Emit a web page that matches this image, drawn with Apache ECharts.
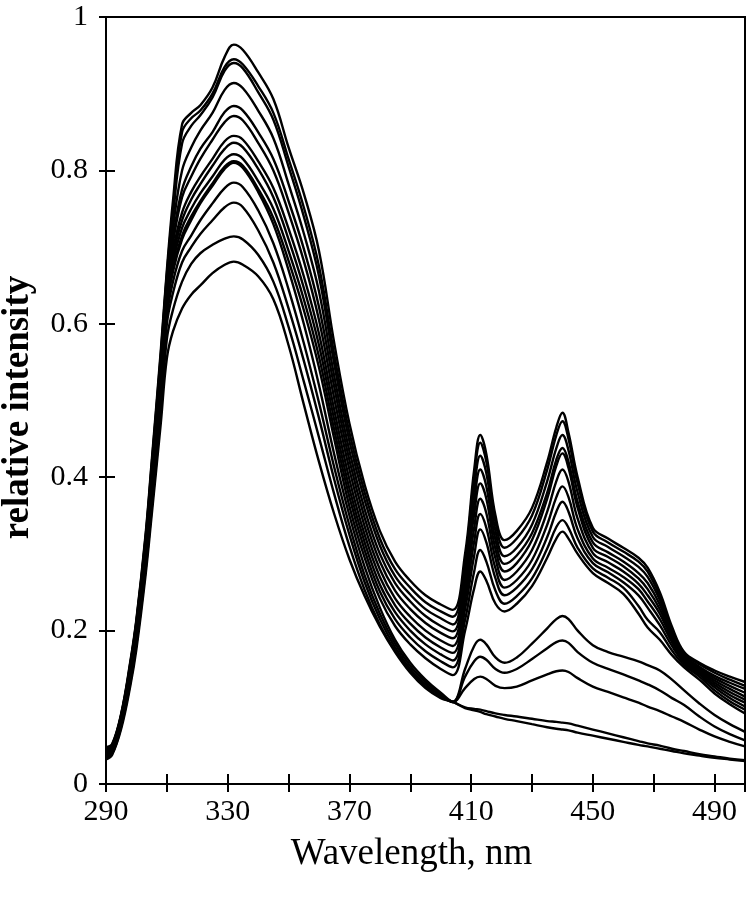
<!DOCTYPE html>
<html>
<head>
<meta charset="utf-8">
<script src="https://cdn.jsdelivr.net/npm/echarts@6/dist/echarts.min.js"></script>
<style>html,body{margin:0;padding:0;background:#fff}#chart{width:754px;height:900px}</style>
</head>
<body>
<div id="chart"></div>
<script>
const wavelength = [290,292,295,298,300,303,305,308,310,312,315,318,321,325,329,332,335,340,345,350,355,360,365,370,375,380,385,390,395,400,404,408,411,413,415,418,421,425,430,435,438,440,442,445,450,455,460,465,468,472,476,480,485,490,495,500];

const curve01 = [.048,.052,.092,.160,.215,.325,.420,.565,.670,.760,.860,.875,.885,.908,.948,.964,.957,.928,.893,.830,.770,.695,.575,.470,.390,.330,.290,.265,.246,.234,.227,.300,.410,.455,.430,.350,.318,.330,.360,.420,.465,.484,.458,.400,.334,.320,.308,.295,.282,.250,.205,.172,.158,.148,.140,.133];
const curve02 = [.047,.051,.091,.158,.213,.322,.416,.560,.665,.750,.850,.868,.878,.900,.935,.945,.938,.910,.875,.815,.752,.675,.560,.458,.380,.320,.280,.256,.237,.225,.218,.292,.400,.445,.420,.342,.308,.320,.350,.410,.455,.473,.450,.392,.329,.315,.303,.290,.277,.245,.202,.170,.156,.145,.136,.128];
const curve03 = [.046,.050,.090,.156,.211,.319,.412,.555,.660,.740,.835,.858,.872,.895,.930,.940,.933,.902,.866,.805,.740,.662,.548,.447,.370,.311,.271,.247,.228,.216,.208,.283,.385,.428,.405,.330,.297,.308,.338,.395,.438,.455,.435,.380,.322,.309,.297,.283,.270,.240,.199,.168,.153,.141,.132,.124];
const curve04 = [.045,.049,.089,.154,.209,.316,.408,.550,.655,.725,.800,.830,.852,.875,.905,.914,.907,.878,.842,.782,.718,.642,.532,.434,.358,.300,.262,.238,.219,.206,.199,.274,.368,.410,.388,.318,.287,.298,.327,.380,.423,.438,.420,.368,.315,.302,.290,.275,.262,.234,.196,.166,.151,.138,.128,.119];
const curve05 = [.044,.048,.088,.152,.206,.312,.403,.544,.650,.712,.775,.805,.828,.850,.876,.884,.878,.850,.815,.760,.698,.622,.518,.422,.347,.290,.252,.228,.210,.197,.190,.265,.352,.392,.372,.306,.277,.288,.318,.372,.415,.431,.412,.360,.308,.296,.284,.268,.254,.228,.193,.164,.149,.135,.124,.114];
const curve06 = [.043,.047,.087,.150,.204,.309,.399,.538,.645,.705,.765,.792,.815,.840,.863,.871,.865,.836,.800,.745,.682,.605,.503,.410,.336,.280,.242,.218,.200,.187,.180,.252,.334,.372,.353,.294,.266,.277,.305,.355,.395,.410,.394,.346,.301,.289,.277,.261,.246,.222,.189,.162,.147,.132,.120,.110];
const curve07 = [.042,.046,.086,.148,.202,.306,.395,.532,.640,.695,.745,.772,.792,.815,.838,.845,.840,.812,.777,.724,.662,.587,.488,.397,.325,.270,.233,.209,.191,.178,.171,.240,.316,.352,.334,.281,.256,.266,.292,.338,.374,.388,.374,.332,.294,.282,.270,.254,.238,.215,.185,.160,.145,.129,.116,.106];
const curve08 = [.041,.045,.085,.146,.199,.302,.390,.526,.635,.688,.735,.762,.782,.806,.828,.836,.830,.802,.765,.710,.647,.572,.475,.385,.315,.260,.224,.200,.182,.169,.161,.228,.298,.332,.315,.268,.246,.256,.280,.322,.355,.368,.355,.320,.288,.276,.263,.246,.230,.207,.180,.158,.143,.126,.112,.101];
const curve09 = [.040,.044,.084,.144,.197,.299,.386,.520,.630,.680,.725,.750,.770,.792,.814,.821,.815,.786,.750,.695,.632,.557,.462,.374,.305,.251,.215,.191,.173,.160,.152,.214,.277,.305,.290,.252,.235,.245,.268,.307,.335,.344,.334,.308,.281,.269,.256,.232,.214,.198,.174,.155,.140,.122,.108,.097];
const curve10 = [.039,.043,.083,.142,.195,.296,.382,.514,.625,.672,.715,.740,.760,.783,.805,.812,.806,.776,.738,.682,.618,.543,.450,.362,.295,.242,.206,.182,.164,.150,.142,.200,.255,.277,.265,.235,.225,.235,.258,.295,.320,.329,.320,.300,.275,.262,.248,.222,.204,.188,.168,.152,.136,.118,.104,.092];
const curve11 = [.038,.042,.081,.140,.192,.292,.377,.508,.620,.668,.710,.735,.757,.780,.802,.810,.803,.772,.730,.670,.600,.520,.430,.350,.283,.230,.188,.158,.136,.119,.107,.150,.180,.188,.182,.165,.158,.165,.183,.203,.215,.219,.215,.200,.181,.172,.166,.160,.155,.148,.136,.122,.105,.090,.078,.068];
const curve12 = [.037,.041,.079,.138,.189,.288,.371,.500,.610,.655,.695,.715,.735,.757,.777,.784,.778,.748,.705,.645,.575,.497,.413,.337,.272,.222,.183,.154,.133,.117,.107,.140,.160,.166,.162,.150,.145,.150,.163,.177,.185,.187,.184,.172,.158,.150,.143,.135,.130,.122,.112,.103,.088,.075,.065,.057];
const curve13 = [.035,.040,.077,.135,.186,.284,.365,.492,.600,.640,.680,.700,.717,.735,.752,.758,.752,.722,.680,.620,.552,.477,.397,.325,.263,.215,.178,.150,.130,.115,.107,.125,.137,.140,.137,.128,.125,.127,.135,.143,.147,.148,.146,.138,.127,.120,.113,.106,.101,.095,.088,.081,.071,.062,.055,.049];
const curve14 = [.034,.039,.075,.132,.182,.279,.358,.482,.580,.618,.655,.678,.692,.703,.711,.714,.710,.690,.655,.596,.525,.452,.378,.310,.253,.208,.174,.147,.127,.113,.107,.100,.098,.097,.095,.092,.090,.088,.085,.082,.081,.080,.079,.076,.071,.066,.061,.056,.053,.050,.046,.043,.039,.036,.033,.031];
const curve15 = [.032,.038,.072,.128,.176,.272,.350,.470,.555,.590,.620,.638,.650,.666,.677,.681,.677,.662,.632,.572,.495,.420,.352,.293,.245,.205,.172,.145,.125,.112,.107,.099,.096,.094,.091,.088,.085,.082,.078,.074,.072,.071,.070,.067,.063,.059,.055,.051,.049,.046,.043,.040,.037,.034,.032,.030];

const xTickLabels = [290, 330, 370, 410, 450, 490];
const yTickLabels = [0, 0.2, 0.4, 0.6, 0.8, 1];

const curves = [curve01,curve02,curve03,curve04,curve05,curve06,curve07,curve08,curve09,curve10,curve11,curve12,curve13,curve14,curve15];

const FONT = "'Liberation Serif', 'Times New Roman', serif";
const chart = echarts.init(document.getElementById('chart'), null, {renderer: 'canvas'});

function xAxisDef(inside, withLabels) {
  return {
    type: 'value', min: 290, max: 500, interval: 20, position: 'bottom',
    axisLine: {show: true, lineStyle: {color: '#000', width: 2}},
    axisTick: {show: true, inside: inside, length: inside ? 10 : 8, lineStyle: {color: '#000', width: 2}},
    splitLine: {show: false},
    axisLabel: withLabels ? {
      show: true, margin: 13, color: '#000', fontFamily: FONT, fontSize: 30,
      formatter: v => xTickLabels.includes(Math.round(v)) ? String(Math.round(v)) : ''
    } : {show: false},
    name: withLabels ? 'Wavelength, nm' : '',
    nameLocation: 'middle', nameGap: 52,
    nameTextStyle: {color: '#000', fontFamily: FONT, fontSize: 37, padding: [0, 28, 0, 0]}
  };
}
function yAxisDef(inside, withLabels) {
  return {
    type: 'value', min: 0, max: 1, interval: 0.2, position: 'left',
    axisLine: {show: true, lineStyle: {color: '#000', width: 2}},
    axisTick: {show: true, inside: inside, length: inside ? 9 : 7, lineStyle: {color: '#000', width: 2}},
    splitLine: {show: false},
    axisLabel: withLabels ? {
      show: true, margin: 18, color: '#000', fontFamily: FONT, fontSize: 30,
      formatter: v => { const m = yTickLabels.find(t => Math.abs(t - v) < 1e-6); return m === undefined ? '' : String(m); }
    } : {show: false},
    name: withLabels ? 'relative intensity' : '',
    nameLocation: 'middle', nameGap: 69,
    nameTextStyle: {color: '#000', fontFamily: FONT, fontSize: 37, fontWeight: 'bold', padding: [0, 14, 0, 0]}
  };
}

chart.setOption({
  animation: false,
  backgroundColor: '#fff',
  grid: {left: 106, right: 9, top: 17, bottom: 116, outerBoundsMode: 'none', containLabel: false, show: true, borderColor: '#000', borderWidth: 2, backgroundColor: 'transparent'},
  xAxis: [xAxisDef(true, true), xAxisDef(false, false)],
  yAxis: [yAxisDef(true, true), yAxisDef(false, false)],
  series: curves.map((c, k) => ({
    type: 'line',
    name: 'spectrum ' + (k + 1),
    xAxisIndex: 0, yAxisIndex: 0,
    data: wavelength.map((w, i) => [w, c[i]]),
    showSymbol: false, symbol: 'none',
    smooth: 0.4,
    lineStyle: {color: '#000', width: 2.4},
    z: 3
  }))
});
</script>
</body>
</html>
